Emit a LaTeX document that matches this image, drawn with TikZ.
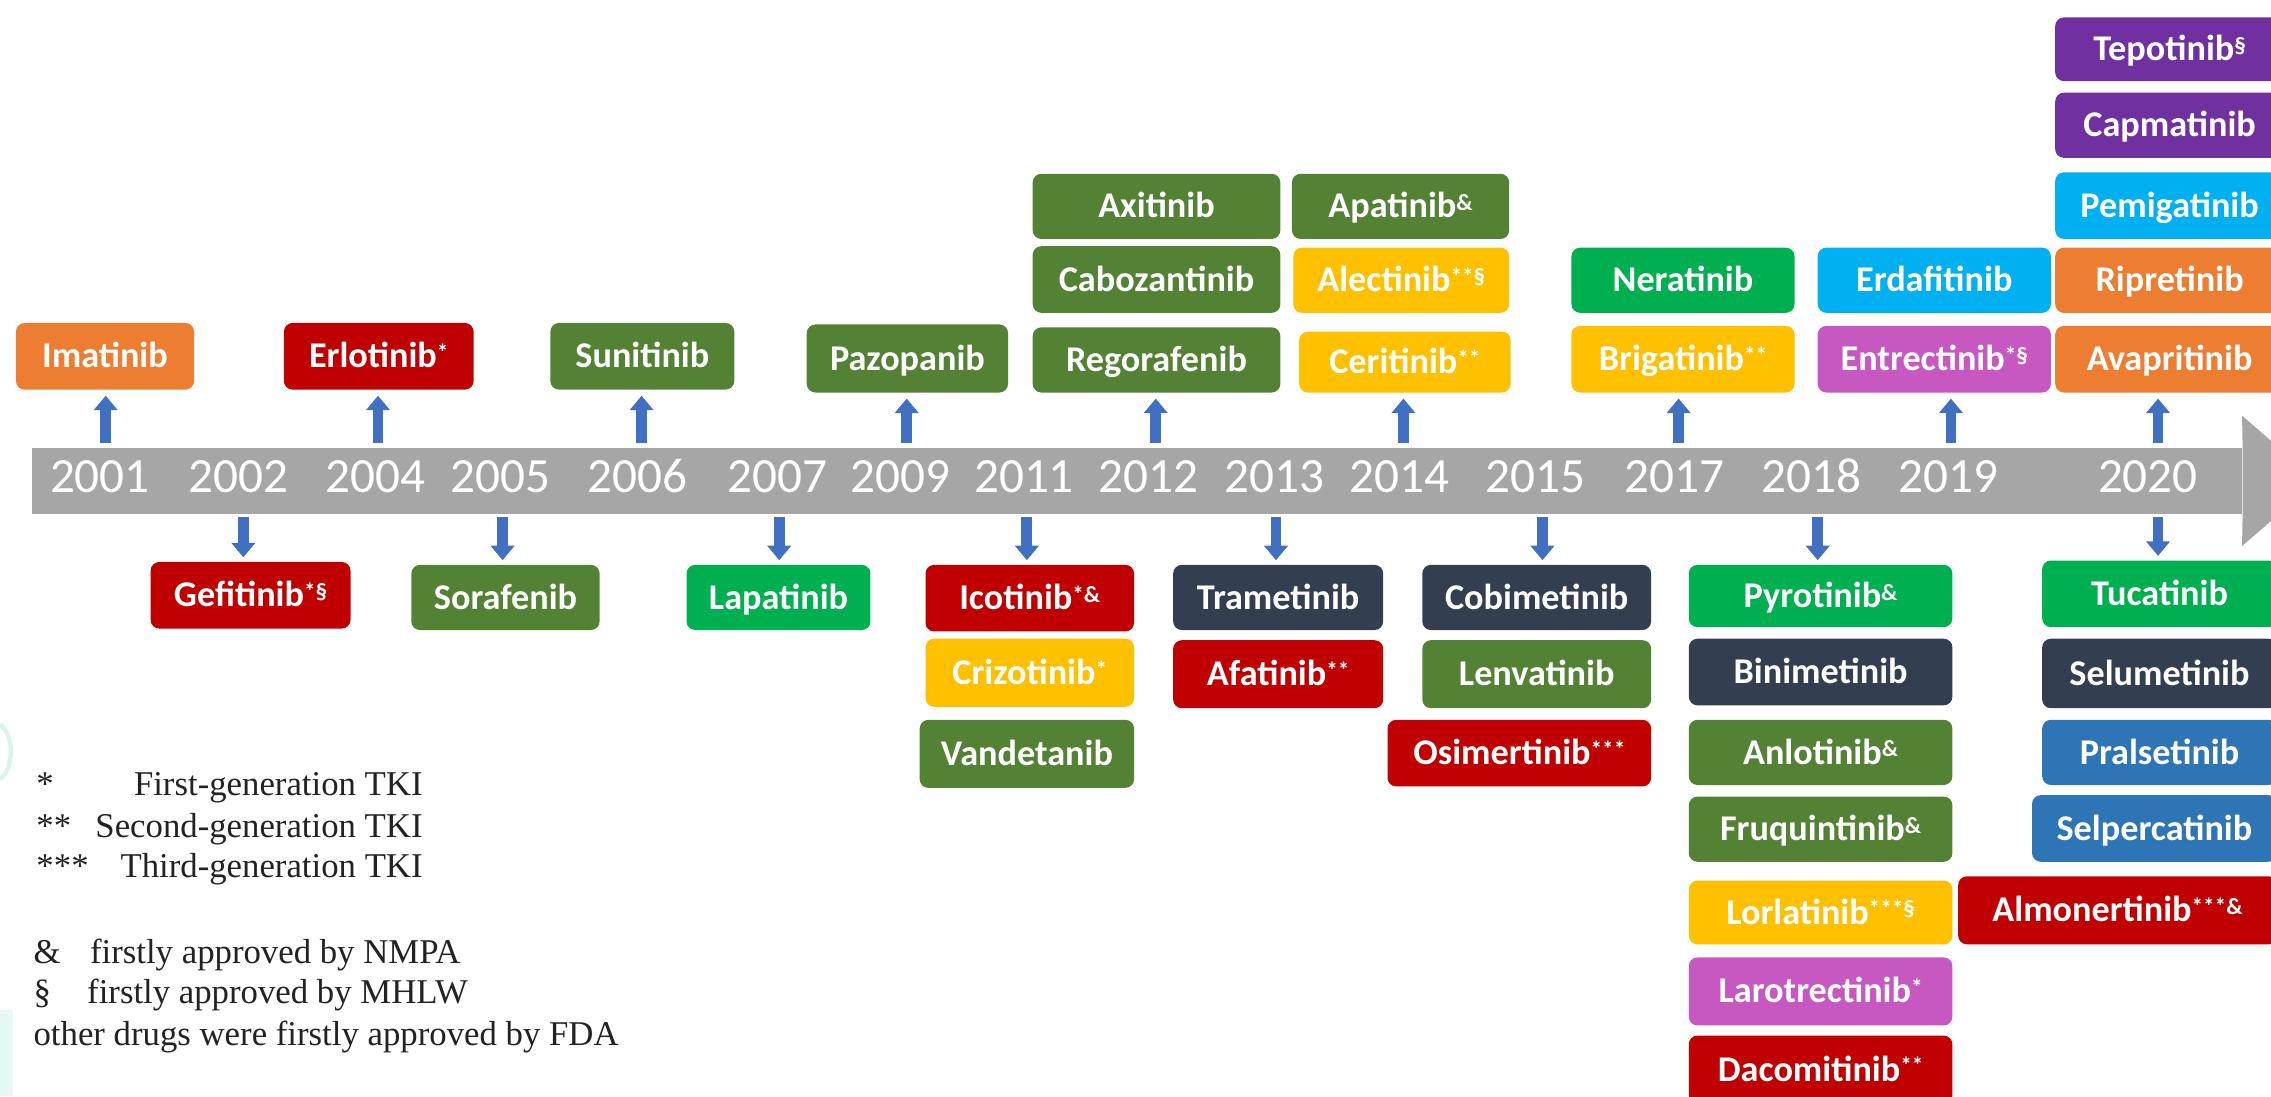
\documentclass[tikz,border=0pt]{standalone}
\usepackage{fontspec}
\setmainfont{Liberation Serif}
\newfontfamily\drugfont{Carlito}
\usetikzlibrary{arrows.meta}
\definecolor{cOrange}{HTML}{ED7D31}
\definecolor{cRed}{HTML}{C00000}
\definecolor{cOlive}{HTML}{548235}
\definecolor{cGreen}{HTML}{00B050}
\definecolor{cYellow}{HTML}{FFC000}
\definecolor{cCyan}{HTML}{00B0F0}
\definecolor{cMagenta}{HTML}{C757C1}
\definecolor{cPurple}{HTML}{7030A0}
\definecolor{cSlate}{HTML}{333F50}
\definecolor{cBlue}{HTML}{2E75B6}
\definecolor{cArrow}{HTML}{4170C2}
\definecolor{cBar}{HTML}{A6A6A6}
\definecolor{cLegend}{HTML}{222222}
\definecolor{cFaintA}{HTML}{DDF3EA}
\definecolor{cFaintB}{HTML}{E6F8F6}
\newcommand\sx[1]{\raisebox{5pt}{\fontsize{16}{16}\selectfont #1}}
\newcommand\drug[7]{%
  \node[drugbox, fill=#6, minimum width={#4pt-#2pt}, minimum height={#5pt-#3pt}] (#1) at ({(#2+#4)/2},{(#3+#5)/2}) {#7};}
\begin{document}
\begin{tikzpicture}[x=1pt,y=-1pt,
  drugbox/.style={rounded corners=6pt, inner sep=0pt, text=white,
    font=\drugfont\bfseries\fontsize{25}{25}\selectfont, text height=16pt, text depth=0pt},
  uparr/.style={cArrow, line width=7.5pt, -{Triangle[width=16pt,length=10pt]}, shorten >=4pt},
  downarr/.style={cArrow, line width=7.5pt, -{Triangle[width=16pt,length=10pt]}, shorten >=3pt},
  yearlbl/.style={text=white, font=\drugfont\fontsize{34}{34}\selectfont, anchor=base, inner sep=0pt},
  legend/.style={text=cLegend, font=\fontsize{24}{24}\selectfont, inner sep=0pt}]
\useasboundingbox (0,0) rectangle (1568,757);
% faint artefacts at left edge
\draw[cFaintA, line width=3pt] (0,500) .. controls (10,508) and (10,530) .. (0,538);
\fill[cFaintB] (0,697) rectangle (9,757);
% timeline bar
\node[fill=cBar, inner sep=0pt, minimum width=1526pt, minimum height=46pt, anchor=north west] (bar) at (22,309) {};
\fill[cBar] (bar.north east) -- (1548,287) -- (1600,332) -- (1548,377) -- (bar.south east) -- cycle;
% years
\foreach \yr/\xx in {2001/69,2002/164.5,2004/259,2005/345.7,2006/440.4,2007/536.5,2009/622,2011/707,2012/793,2013/880,2014/966,2015/1060,2017/1156,2018/1251,2019/1345,2020/1483}
  \node[yearlbl] (y\yr) at (\xx,340) {\yr};
% upper boxes
\drug{imatinib}{11}{223}{134}{269}{cOrange}{Imatinib}
\drug{erlotinib}{196}{223}{327}{269}{cRed}{Erlotinib\sx{*}}
\drug{sunitinib}{380}{223}{507}{269}{cOlive}{Sunitinib}
\drug{pazopanib}{557}{224}{696}{271}{cOlive}{Pazopanib}
\drug{axitinib}{713}{120}{884}{165}{cOlive}{Axitinib}
\drug{cabozantinib}{713}{170}{884}{216}{cOlive}{Cabozantinib}
\drug{regorafenib}{713}{226}{884}{271}{cOlive}{Regorafenib}
\drug{apatinib}{892}{120}{1042}{165}{cOlive}{Apatinib\sx{\&}}
\drug{alectinib}{893}{171}{1042}{216}{cYellow}{Alectinib\sx{**§}}
\drug{ceritinib}{897}{229}{1043}{271}{cYellow}{Ceritinib\sx{**}}
\drug{neratinib}{1085}{171}{1239}{216}{cGreen}{Neratinib}
\drug{brigatinib}{1085}{225}{1239}{271}{cYellow}{Brigatinib\sx{**}}
\drug{erdafitinib}{1255}{171}{1416}{216}{cCyan}{Erdafitinib}
\drug{entrectinib}{1255}{225}{1416}{271}{cMagenta}{Entrectinib\sx{*§}}
\drug{tepotinib}{1419}{12}{1577}{56}{cPurple}{Tepotinib\sx{§}}
\drug{capmatinib}{1419}{64}{1577}{109}{cPurple}{Capmatinib}
\drug{pemigatinib}{1419}{119}{1577}{165}{cCyan}{Pemigatinib}
\drug{ripretinib}{1419}{171}{1577}{216}{cOrange}{Ripretinib}
\drug{avapritinib}{1419}{225}{1577}{271}{cOrange}{Avapritinib}
% lower boxes
\drug{gefitinib}{104}{388}{242}{434}{cRed}{Gefitinib\sx{*§}}
\drug{sorafenib}{284}{390}{414}{435}{cOlive}{Sorafenib}
\drug{lapatinib}{474}{390}{601}{435}{cGreen}{Lapatinib}
\drug{icotinib}{639}{390}{783}{436}{cRed}{Icotinib\sx{*\&}}
\drug{crizotinib}{639}{441}{783}{488}{cYellow}{Crizotinib\sx{*}}
\drug{vandetanib}{635}{497}{783}{544}{cOlive}{Vandetanib}
\drug{trametinib}{810}{390}{955}{435}{cSlate}{Trametinib}
\drug{afatinib}{810}{442}{955}{489}{cRed}{Afatinib\sx{**}}
\drug{cobimetinib}{982}{390}{1140}{435}{cSlate}{Cobimetinib}
\drug{lenvatinib}{982}{442}{1140}{489}{cOlive}{Lenvatinib}
\drug{osimertinib}{958}{497}{1140}{543}{cRed}{Osimertinib\sx{***}}
\drug{pyrotinib}{1166}{390}{1348}{433}{cGreen}{Pyrotinib\sx{\&}}
\drug{binimetinib}{1166}{441}{1348}{487}{cSlate}{Binimetinib}
\drug{anlotinib}{1166}{497}{1348}{542}{cOlive}{Anlotinib\sx{\&}}
\drug{fruquintinib}{1166}{550}{1348}{595}{cOlive}{Fruquintinib\sx{\&}}
\drug{lorlatinib}{1166}{608}{1348}{652}{cYellow}{Lorlatinib\sx{***§}}
\drug{larotrectinib}{1166}{661}{1348}{708}{cMagenta}{Larotrectinib\sx{*}}
\drug{dacomitinib}{1166}{715}{1348}{762}{cRed}{Dacomitinib\sx{**}}
\drug{tucatinib}{1410}{387}{1572}{433}{cGreen}{Tucatinib}
\drug{selumetinib}{1410}{441}{1572}{489}{cSlate}{Selumetinib}
\drug{pralsetinib}{1410}{497}{1572}{542}{cBlue}{Pralsetinib}
\drug{selpercatinib}{1403}{549}{1572}{595}{cBlue}{Selpercatinib}
\drug{almonertinib}{1352}{605}{1572}{652}{cRed}{Almonertinib\sx{***\&}}
% up arrows
\foreach \nm/\xx/\tg in {u2001/73/imatinib,u2004/261/erlotinib,u2006/443/sunitinib,u2009/626/pazopanib,u2012/798/regorafenib,u2014/969/ceritinib,u2017/1159/brigatinib,u2019/1347/entrectinib,u2020/1490/avapritinib}{
  \coordinate (\nm) at (\xx,306);
  \draw[uparr] (\nm) -- (\nm |- \tg.south);
}
% down arrows
\foreach \nm/\xx/\tg in {d2002/168/gefitinib,d2005/347/sorafenib,d2007/538/lapatinib,d2011/709/icotinib,d2013/881/trametinib,d2015/1065/cobimetinib,d2018/1255/pyrotinib,d2020/1490/tucatinib}{
  \coordinate (\nm) at (\xx,357);
  \draw[downarr] (\nm) -- (\nm |- \tg.north);
}
% legend
\node[legend, anchor=base west] (k1) at (25,549) {*};
\node[legend, anchor=base east] (t1) at (292,549) {First-generation TKI};
\node[legend, anchor=base west] (k2) at (25,578) {**};
\node[legend, anchor=base east] (t2) at (292,578) {Second-generation TKI};
\node[legend, anchor=base west] (k3) at (25,606) {***};
\node[legend, anchor=base east] (t3) at (292,606) {Third-generation TKI};
\node[legend, anchor=base west] (k4) at (23,665) {\&};
\node[legend, anchor=base west] (t4) at (62,665) {firstly approved by NMPA};
\node[legend, anchor=base west] (k5) at (23,693) {§};
\node[legend, anchor=base west] (t5) at (60,693) {firstly approved by MHLW};
\node[legend, anchor=base west] (t6) at (23,722) {other drugs were firstly approved by FDA};
\end{tikzpicture}
\end{document}
